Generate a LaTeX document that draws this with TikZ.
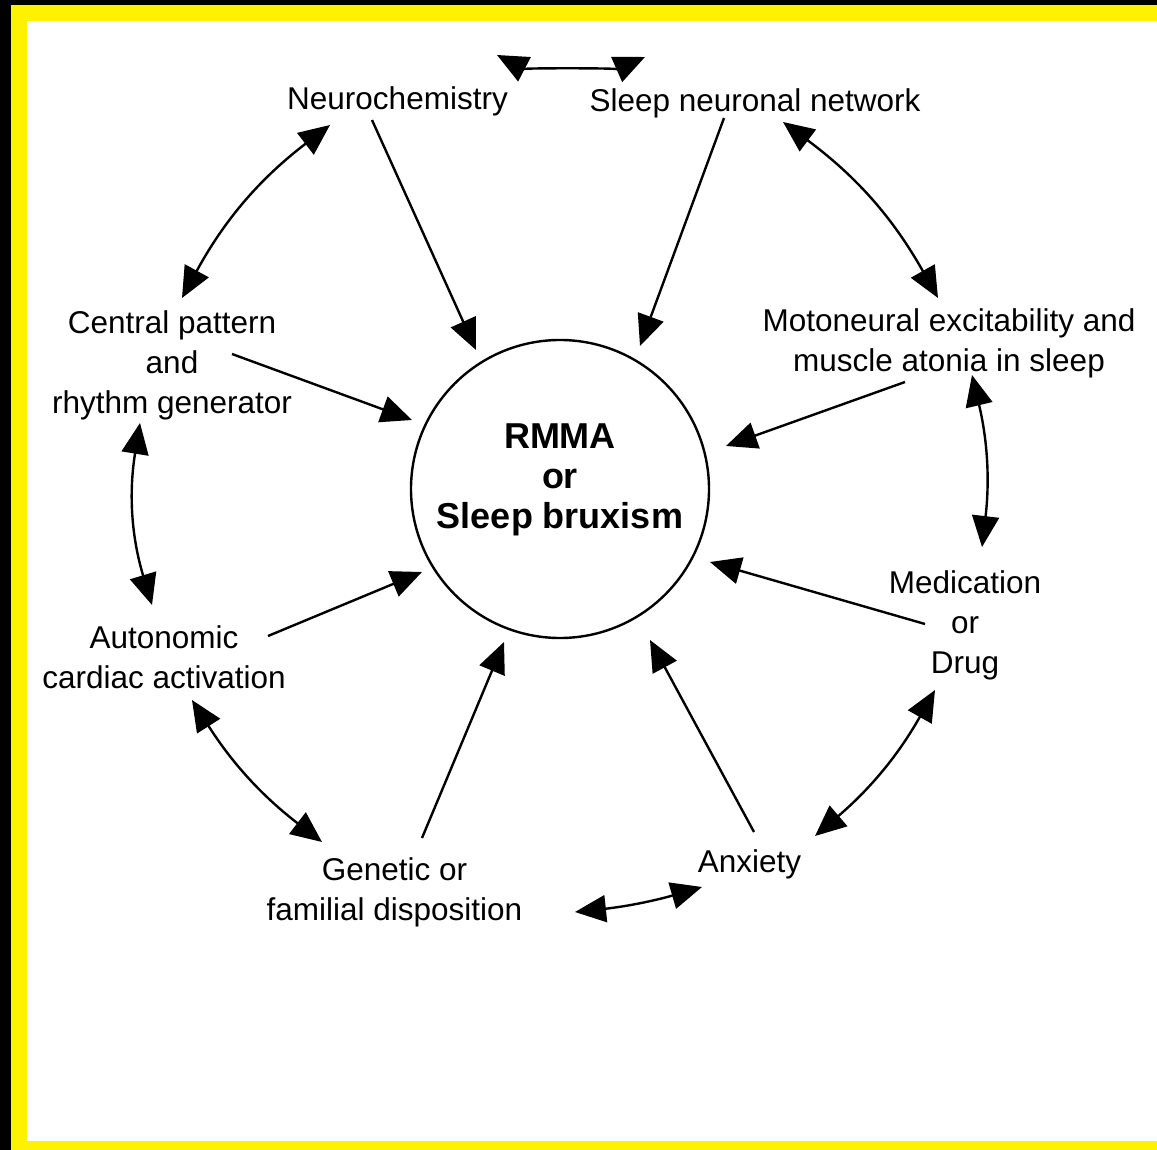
\documentclass[tikz,border=0pt]{standalone}
\usepackage{fontspec}
\setmainfont{Liberation Sans}
\usetikzlibrary{arrows.meta}
\begin{document}
\begin{tikzpicture}[x=1pt,y=-1pt,
  lbl/.style={font=\fontsize{31.5}{40}\selectfont, align=center, inner sep=0pt},
  conn/.style={line width=2.4pt, -{Triangle[length=31pt,width=27pt]}},
  dconn/.style={line width=2.4pt, {Triangle[length=31pt,width=27pt]}-{Triangle[length=31pt,width=27pt]}},
]
\fill[black] (0,0) rectangle (1157,1150);
\fill[yellow] (11,5) rectangle (1157,1150);
\fill[white] (27,21) rectangle (1157,1141);
\useasboundingbox (0,0) rectangle (1157,1150);

% centre
\node[circle, draw, line width=2.4pt, minimum size=298pt, inner sep=0pt] (c) at (560,489) {};
\node[font=\fontsize{36}{40}\selectfont\bfseries, align=center, inner sep=0pt] (ct) at (560,480) {RMMA\\or\\Sleep bruxism};

% labels
\node[lbl] (neuro) at (397.5,101) {Neurochemistry};
\node[lbl] (sleep) at (755,103) {Sleep neuronal network};
\node[lbl] (moto) at (949,343) {Motoneural excitability and\\muscle atonia in sleep};
\node[lbl] (cpg) at (172,365) {Central pattern\\and\\rhythm generator};
\node[lbl] (auto) at (164,657) {Autonomic\\cardiac activation};
\node[lbl] (med) at (965,625) {Medication\\or\\Drug};
\node[lbl] (gen) at (394.5,892) {Genetic or\\familial disposition};
\node[lbl] (anx) at (749.5,864) {Anxiety};

% straight arrow coordinates
\coordinate (a1s) at (372,120); \coordinate (a1t) at (476,350);
\coordinate (a2s) at (724,118); \coordinate (a2t) at (640,346);
\coordinate (a3s) at (232,354); \coordinate (a3t) at (412,420);
\coordinate (a4s) at (905,382); \coordinate (a4t) at (726,446);
\coordinate (a5s) at (268,636); \coordinate (a5t) at (422,572);
\coordinate (a6s) at (925,624); \coordinate (a6t) at (710,562);
\coordinate (a7s) at (422,838); \coordinate (a7t) at (504,642);
\coordinate (a8s) at (754,832); \coordinate (a8t) at (650,640);

\draw[conn] (a1s) -- (a1t);
\draw[conn] (a2s) -- (a2t);
\draw[conn] (a3s) -- (a3t);
\draw[conn] (a4s) -- (a4t);
\draw[conn] (a5s) -- (a5t);
\draw[conn] (a6s) -- (a6t);
\draw[conn] (a7s) -- (a7t);
\draw[conn] (a8s) -- (a8t);

% double arrow coordinates
\coordinate (bA1) at (497,55);  \coordinate (bA2) at (645,57);
\coordinate (bB1) at (330,125); \coordinate (bB2) at (182,298);
\coordinate (bC1) at (783,122); \coordinate (bC2) at (938,298);
\coordinate (bD1) at (140,423); \coordinate (bD2) at (152,605);
\coordinate (bE1) at (972,375); \coordinate (bE2) at (982,547);
\coordinate (bF1) at (192,700); \coordinate (bF2) at (322,842);
\coordinate (bG1) at (935,690); \coordinate (bG2) at (815,836);
\coordinate (bH1) at (575,912); \coordinate (bH2) at (702,887);

\draw[dconn] (bA1) .. controls (522,68) and (620,68) .. (bA2);
\draw[dconn] (bB1) to[bend right=12] (bB2);
\draw[dconn] (bC1) to[bend left=12] (bC2);
\draw[dconn] (bD1) to[bend right=13] (bD2);
\draw[dconn] (bE1) to[bend left=10] (bE2);
\draw[dconn] (bF1) to[bend right=10] (bF2);
\draw[dconn] (bG1) to[bend left=10] (bG2);
\draw[dconn] (bH1) to[bend right=5] (bH2);
\end{tikzpicture}
\end{document}
